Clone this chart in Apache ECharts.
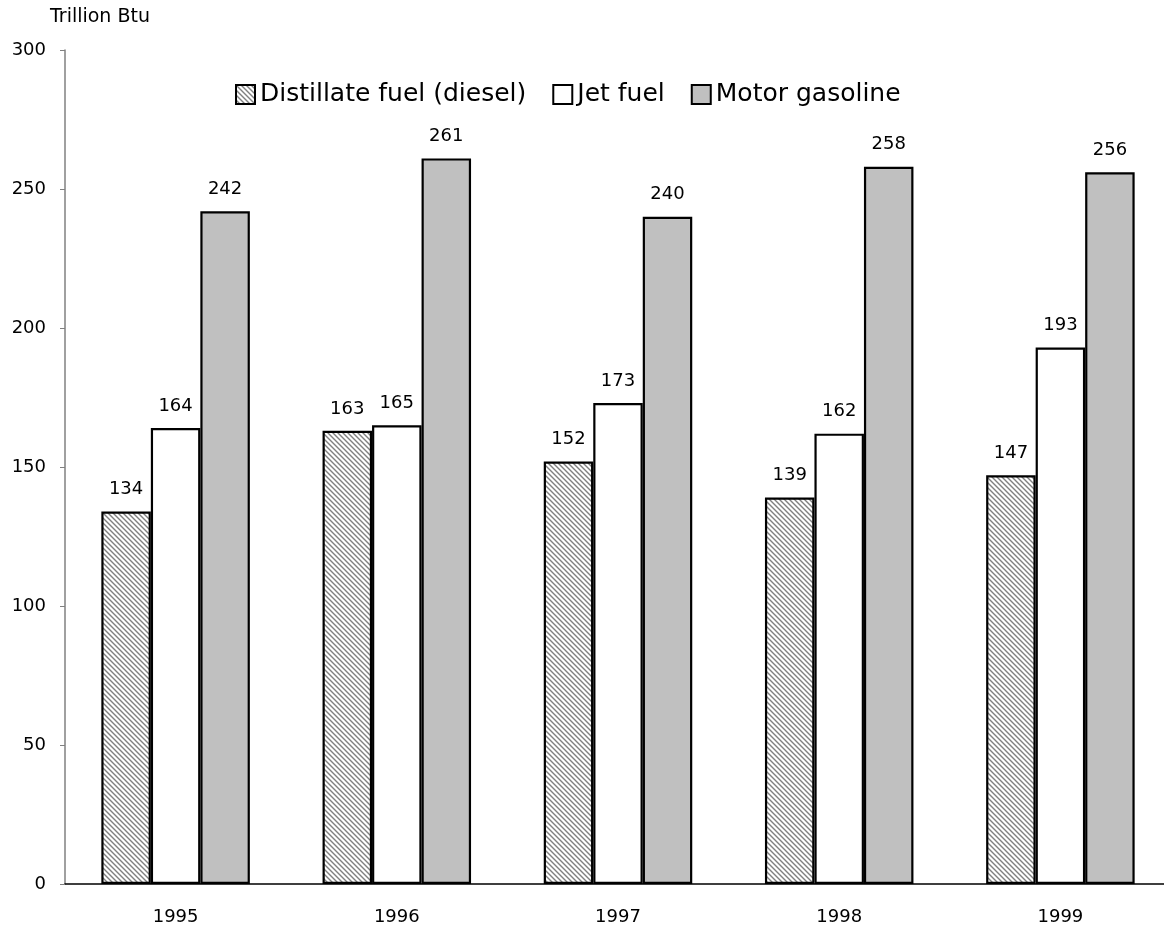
<!DOCTYPE html>
<html>
<head>
<meta charset="utf-8">
<script src="https://cdn.jsdelivr.net/npm/echarts@6/dist/echarts.min.js"></script>
<style>
  html, body { margin: 0; padding: 0; background: #fff; overflow: hidden; }
  /* the plot's last band runs a few pixels past the right edge of the page */
  #chart { width: 1171px; height: 927px; }
</style>
</head>
<body>
<div id="chart"></div>
<script>
const years = ['1995', '1996', '1997', '1998', '1999'];
const diesel = [134, 163, 152, 139, 147];
const jetFuel = [164, 165, 173, 162, 193];
const gasoline = [242, 261, 240, 258, 256];
const yTicks = { min: 0, max: 300, interval: 50 };

const FONT = '"DejaVu Sans", sans-serif';

// Diagonal hatch fill for the diesel bars
function hatch() {
  const c = document.createElement('canvas');
  c.width = 5; c.height = 5;
  const g = c.getContext('2d');
  g.fillStyle = '#ffffff';
  g.fillRect(0, 0, 5, 5);
  g.strokeStyle = '#808080';
  g.lineWidth = 1.4;
  g.beginPath();
  g.moveTo(-1, -1); g.lineTo(6, 6);
  g.moveTo(-4, 1); g.lineTo(4, 9);
  g.moveTo(1, -4); g.lineTo(9, 4);
  g.stroke();
  return c;
}
const hatchFill = { image: hatch(), repeat: 'repeat' };

const labelStyle = {
  show: true,
  position: 'top',
  distance: 13,
  color: '#000',
  fontSize: 18,
  fontFamily: FONT
};

function barSeries(name, data, color) {
  return {
    name: name,
    type: 'bar',
    data: data,
    barWidth: 49.5,
    barGap: '0%',
    itemStyle: { color: color, borderColor: '#000', borderWidth: 2.2 },
    label: labelStyle
  };
}

const chart = echarts.init(document.getElementById('chart'), null, { renderer: 'canvas' });
chart.setOption({
  animation: false,
  backgroundColor: '#fff',
  title: {
    text: 'Trillion Btu',
    left: 50, top: 8,
    padding: 0,
    textStyle: { fontSize: 19, fontWeight: 'normal', color: '#000', fontFamily: FONT }
  },
  legend: {
    top: 77,
    left: 230,
    icon: 'rect',
    itemWidth: 19,
    itemHeight: 19,
    itemGap: 26,
    textStyle: { fontSize: 25, color: '#000', fontFamily: FONT },
    data: ['Distillate fuel (diesel)', 'Jet fuel', 'Motor gasoline']
  },
  grid: { left: 65, top: 50, right: 0, bottom: 43, containLabel: false },
  xAxis: {
    type: 'category',
    data: years,
    axisLine: { lineStyle: { color: '#000', width: 1.5 } },
    axisTick: { show: false },
    axisLabel: { margin: 24, fontSize: 18, color: '#000', fontFamily: FONT }
  },
  yAxis: {
    type: 'value',
    min: yTicks.min, max: yTicks.max, interval: yTicks.interval,
    splitLine: { show: false },
    axisLine: { show: true, lineStyle: { color: '#808080', width: 1.5 } },
    axisTick: { show: true, inside: false, length: 5, lineStyle: { color: '#808080' } },
    axisLabel: { margin: 19, fontSize: 18, color: '#000', fontFamily: FONT }
  },
  series: [
    barSeries('Distillate fuel (diesel)', diesel, hatchFill),
    barSeries('Jet fuel', jetFuel, '#ffffff'),
    barSeries('Motor gasoline', gasoline, '#c0c0c0')
  ]
});
</script>
</body>
</html>
